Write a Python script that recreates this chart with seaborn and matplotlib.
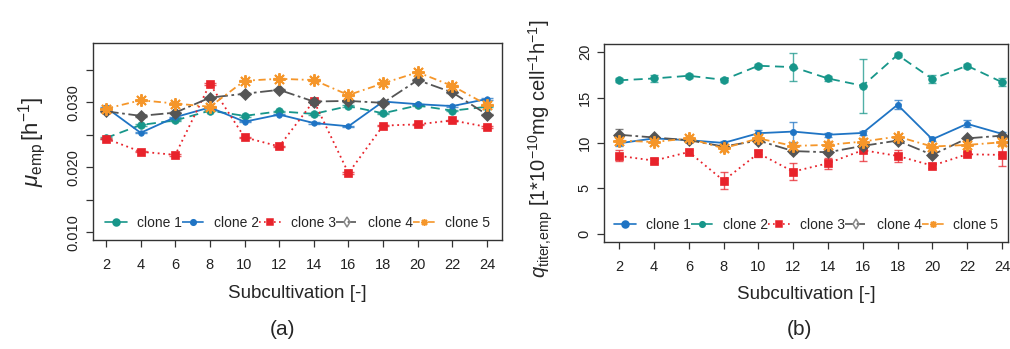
import matplotlib
matplotlib.use("Agg")
import matplotlib.pyplot as plt
from matplotlib.lines import Line2D
import numpy as np
import pandas as pd
import seaborn as sns

# subcultivation steps
subs = [2, 4, 6, 8, 10, 12, 14, 16, 18, 20, 22, 24]
clones = ["clone 1", "clone 2", "clone 3", "clone 4", "clone 5"]

# (a) growth rate mu_emp [1/h]
mu_c1 = [0.0245, 0.0265, 0.0272, 0.0287, 0.0279, 0.0286, 0.0282, 0.0294, 0.0283, 0.0295, 0.0287, 0.0293]
mu_c2 = [0.0292, 0.0253, 0.0277, 0.0292, 0.0270, 0.0281, 0.0268, 0.0263, 0.0301, 0.0297, 0.0294, 0.0305]
mu_c3 = [0.0244, 0.0224, 0.0219, 0.0328, 0.0246, 0.0232, 0.0302, 0.0191, 0.0264, 0.0266, 0.0272, 0.0262]
mu_c4 = [0.0286, 0.0279, 0.0284, 0.0307, 0.0313, 0.0319, 0.0301, 0.0302, 0.0299, 0.0334, 0.0315, 0.0281]
mu_c5 = [0.0290, 0.0303, 0.0298, 0.0293, 0.0333, 0.0336, 0.0334, 0.0311, 0.0329, 0.0346, 0.0325, 0.0296]
mu_err = [0.0001] * 12

# (b) specific productivity q_titer,emp
q_c1 = [9.96, 10.5, 10.3, 10.0, 11.07, 11.25, 10.9, 11.1, 14.2, 10.4, 12.1, 11.0]
q_c2 = [16.9, 17.1, 17.4, 16.95, 18.5, 18.35, 17.1, 16.3, 19.7, 17.05, 18.5, 16.7]
q_c3 = [8.57, 8.05, 9.0, 5.85, 8.86, 6.84, 7.76, 9.2, 8.57, 7.5, 8.75, 8.68]
q_c4 = [10.9, 10.6, 10.3, 9.6, 10.26, 9.1, 8.97, 9.67, 10.26, 8.68, 10.5, 10.8]
q_c5 = [10.26, 10.1, 10.5, 9.4, 10.5, 9.67, 9.78, 10.15, 10.7, 9.6, 9.78, 10.07]
q_err1 = [0.3, 0.2, 0.2, 0.2, 0.4, 1.1, 0.2, 0.2, 0.5, 0.2, 0.4, 0.2]
q_err2 = [0.2, 0.4, 0.2, 0.2, 0.2, 1.55, 0.3, 2.95, 0.2, 0.4, 0.2, 0.4]
q_err3 = [0.6, 0.3, 0.2, 0.9, 0.4, 0.9, 0.6, 1.2, 0.7, 0.3, 0.2, 1.2]
q_err4 = [0.6, 0.2, 0.2, 0.2, 0.3, 0.2, 0.2, 0.2, 0.2, 0.2, 0.2, 0.2]
q_err5 = [0.4, 0.3, 0.3, 0.3, 0.3, 0.3, 0.4, 0.4, 0.3, 0.3, 0.4, 0.4]

TEAL = "#17968a"
BLUE = "#1f74c4"
RED = "#e8232b"
GRAY = "#555555"
ORANGE = "#f5962a"
ASTER = (8, 2, 0)

sns.set_style("ticks")
plt.rcParams["font.family"] = ["Liberation Sans", "DejaVu Sans"]
plt.rcParams["mathtext.fontset"] = "custom"
plt.rcParams["mathtext.rm"] = "Liberation Sans"
plt.rcParams["mathtext.it"] = "Liberation Sans:italic"
plt.rcParams["axes.edgecolor"] = "#333333"

# per panel: colour, dashes, marker, marker size (keyed by clone)
style_a = {
    "clone 1": (TEAL, (5, 3), "o", 5.5),
    "clone 2": (BLUE, "", "o", 4.0),
    "clone 3": (RED, (1, 2), "s", 5.5),
    "clone 4": (GRAY, (7, 2, 1.5, 2), "D", 6.5),
    "clone 5": (ORANGE, (4, 2, 1, 2), "*", 9),
}
style_b = {
    "clone 1": (BLUE, "", "o", 4.5),
    "clone 2": (TEAL, (5, 3), "o", 5.5),
    "clone 3": (RED, (1, 2), "s", 5.5),
    "clone 4": (GRAY, (7, 2, 1.5, 2), "D", 6.5),
    "clone 5": (ORANGE, (4, 2, 1, 2), "*", 9),
}
# legend appearance (same line-type order in both panels)
leg_ls = ["-", (0, (5, 3)), (0, (1, 2)), (0, (5, 2)), (0, (4, 2, 1, 2))]


def long_df(series, errs):
    rows = []
    for name, vals, err in zip(clones, series, errs):
        for s, v, e in zip(subs, vals, err):
            rows.append({"sub": s, "value": v, "err": e, "clone": name})
    return pd.DataFrame(rows)


def draw(ax, df, style, legend_colors, capsize):
    sns.lineplot(
        data=df, x="sub", y="value", hue="clone", style="clone",
        hue_order=clones, style_order=clones,
        palette={k: v[0] for k, v in style.items()},
        dashes={k: v[1] for k, v in style.items()},
        markers={k: v[2] for k, v in style.items()},
        linewidth=1.3, ax=ax, legend=False,
    )
    for line, name in zip(ax.lines, clones):
        col, _, mk, ms = style[name]
        if mk == "*":
            # R style asterisk (pch 8)
            line.set_marker(ASTER)
        line.set_markersize(ms)
        line.set_markeredgecolor(col)
        line.set_markeredgewidth(1.4 if mk == "*" else 0.5)
    for name in clones:
        d = df[df["clone"] == name]
        ax.errorbar(d["sub"], d["value"], yerr=d["err"], fmt="none",
                    ecolor=style[name][0], elinewidth=1.0, capsize=capsize,
                    capthick=1.0, alpha=0.75, zorder=1)

    handles = []
    for i, name in enumerate(clones):
        col = legend_colors[i]
        mk = style[name][2]
        if mk == "*":
            mk = ASTER
        if i == 3:
            mk = "d"
        h = Line2D([], [], color=col, ls=leg_ls[i], lw=1.2, marker=mk,
                   markersize=5 if i != 1 else 4,
                   markerfacecolor="none" if i == 3 else col,
                   markeredgecolor="#888888" if i == 3 else col,
                   markeredgewidth=1.1)
        handles.append(h)
    ax.legend(handles, clones, ncol=5, loc="lower center", frameon=False,
              handlelength=1.6, handletextpad=0.7, columnspacing=0.0,
              fontsize=10, borderaxespad=0.3, bbox_to_anchor=(0.5, 0.0))

    ax.set_xticks(subs)
    ax.set_xticklabels([str(s) for s in subs])
    ax.tick_params(axis="both", direction="out", length=5, width=0.9,
                   color="#333333", labelsize=10.5, labelcolor="#222222")
    ax.tick_params(axis="x", pad=8)
    ax.tick_params(axis="y", pad=4)
    for sp in ax.spines.values():
        sp.set_visible(True)
        sp.set_linewidth(1.0)
    ax.set_xlabel("Subcultivation [-]", fontsize=13.5, labelpad=9)
    ax.set_ylabel("")


fig = plt.figure(figsize=(10.1, 3.49), dpi=100)
ax_a = fig.add_axes([0.0921, 0.3123, 0.4050, 0.5645])
ax_b = fig.add_axes([0.5983, 0.3075, 0.3997, 0.5665])

df_a = long_df([mu_c1, mu_c2, mu_c3, mu_c4, mu_c5], [mu_err] * 5)
draw(ax_a, df_a, style_a, [TEAL, BLUE, RED, GRAY, ORANGE], capsize=4)
ax_a.set_xlim(1.25, 24.87)
ax_a.set_ylim(0.00882, 0.0391)
yt_a = [0.010, 0.015, 0.020, 0.025, 0.030, 0.035]
ax_a.set_yticks(yt_a)
ax_a.set_yticklabels(["0.010", "", "0.020", "", "0.030", ""],
                     rotation=90, va="center")

df_b = long_df([q_c1, q_c2, q_c3, q_c4, q_c5],
               [q_err1, q_err2, q_err3, q_err4, q_err5])
draw(ax_b, df_b, style_b, [BLUE, TEAL, RED, GRAY, ORANGE], capsize=3)
ax_b.set_xlim(1.14, 24.35)
ax_b.set_ylim(-0.88, 20.9)
yt_b = [0, 5, 10, 15, 20]
ax_b.set_yticks(yt_b)
ax_b.set_yticklabels([str(v) for v in yt_b], rotation=90, va="center")

fig.text(0.032, 0.595, r"$\mu_{\mathrm{emp}}\,[\mathrm{h}^{-1}]$",
         rotation=90, ha="center", va="center", fontsize=16)
fig.text(0.535, 0.575,
         r"$q_{\mathrm{titer{,}emp}}$ [1*10$^{-10}$mg cell$^{-1}$h$^{-1}$]",
         rotation=90, ha="center", va="center", fontsize=14.5)
fig.text(0.280, 0.055, "(a)", ha="center", va="center", fontsize=15)
fig.text(0.792, 0.055, "(b)", ha="center", va="center", fontsize=15)

fig.savefig("out.png", dpi=100)
